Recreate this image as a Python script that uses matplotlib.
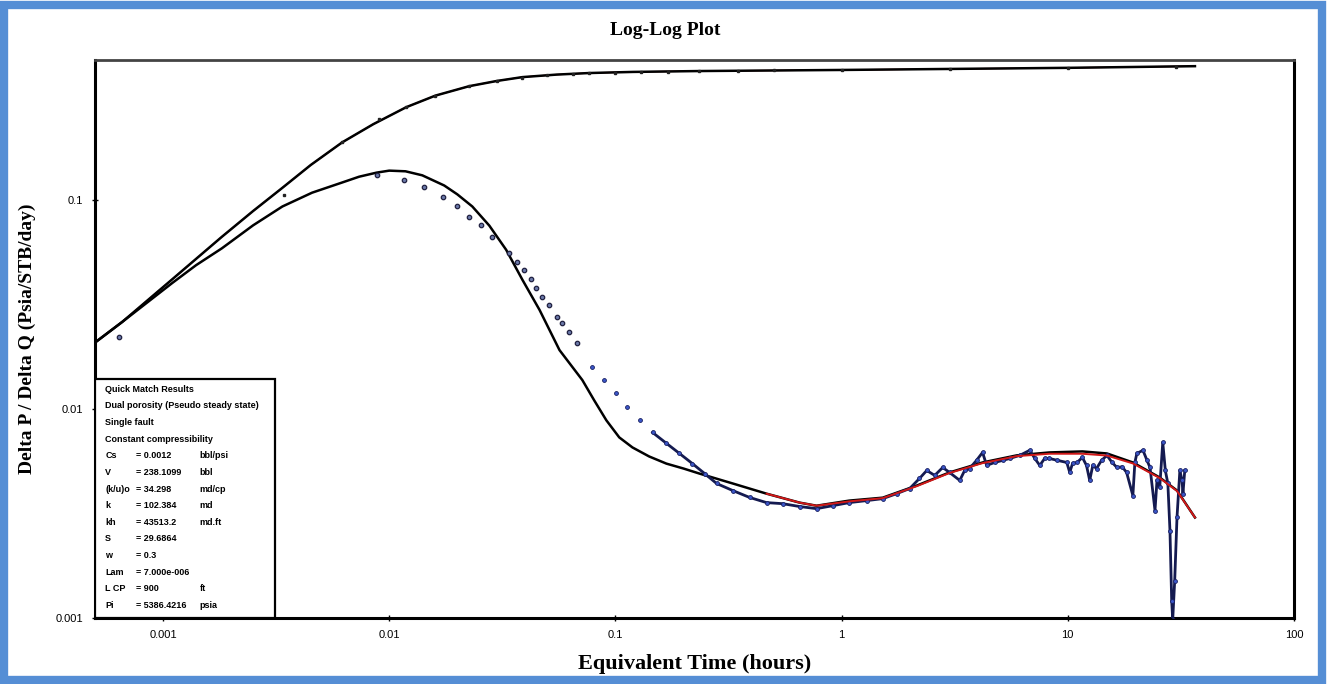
import numpy as np
import matplotlib
matplotlib.use("Agg")
import matplotlib.pyplot as plt
from matplotlib.patches import Rectangle

# ---- data ----
# pressure model (upper curve)
pm_t = [0.00051, 0.00066, 0.0011, 0.00182, 0.0025, 0.00337, 0.0045, 0.0062,
        0.0085, 0.0119, 0.016, 0.0226, 0.03, 0.0388, 0.055, 0.0768, 0.12,
        0.235, 1.0, 10.0, 36.5]
pm_dp = [0.0212, 0.0262, 0.0420, 0.067, 0.089, 0.115, 0.148, 0.19,
         0.232, 0.28, 0.318, 0.353, 0.374, 0.39, 0.401, 0.408, 0.413,
         0.417, 0.422, 0.432, 0.44]

# pressure data points
pd_t = [0.00064, 0.00343, 0.0062, 0.009, 0.0119, 0.016, 0.0226, 0.03, 0.0388,
        0.05, 0.065, 0.0768, 0.1, 0.13, 0.17, 0.235, 0.35, 0.5, 1.0, 3.0, 10.0, 30.0]
pd_dp = [0.0222, 0.106, 0.19, 0.245, 0.28, 0.318, 0.352, 0.372, 0.388,
         0.398, 0.404, 0.407, 0.41, 0.412, 0.414, 0.416, 0.418, 0.42, 0.422, 0.427, 0.432, 0.438]

# derivative model (lower curve)
dm_t = [0.00051, 0.00066, 0.0011, 0.0014, 0.00182, 0.0025, 0.00337, 0.00456,
        0.0062, 0.00736, 0.0088, 0.0100, 0.0118, 0.0140, 0.0175, 0.0200,
        0.0233, 0.0277, 0.0329, 0.0388, 0.0462, 0.0566, 0.0714, 0.0807,
        0.0912, 0.104, 0.119, 0.141, 0.168, 0.2, 0.235, 0.330,
        0.466, 0.652, 0.775, 1.08, 1.52, 2.15, 3.0, 4.2, 5.94, 8.3, 11.6,
        14.9, 19.4, 25.5, 30.4, 36.5]
dm_dp = [0.0212, 0.0262, 0.0403, 0.049, 0.059, 0.076, 0.0936, 0.109,
         0.122, 0.130, 0.136, 0.139, 0.138, 0.132, 0.118, 0.107,
         0.0936, 0.0758, 0.058, 0.0417, 0.0299, 0.0192, 0.0138, 0.0110,
         0.00885, 0.00733, 0.00656, 0.00594, 0.00549, 0.0052, 0.00492,
         0.00441, 0.00394, 0.00357, 0.00345, 0.00365, 0.00377, 0.00431,
         0.00498, 0.00556, 0.00601, 0.00621, 0.00628, 0.00614, 0.00556,
         0.00471, 0.00408, 0.00303]

# second (red) derivative model, late part
rm_t = [0.466, 0.652, 0.775, 1.08, 1.52, 2.15, 3.0, 4.2, 5.94, 8.3, 11.6,
        14.9, 19.4, 25.5, 30.4, 36.5]
rm_dp = [0.00394, 0.00357, 0.00345, 0.00362, 0.00375, 0.00428, 0.00495,
         0.00552, 0.00596, 0.00612, 0.00612, 0.00600, 0.00550, 0.00468,
         0.00406, 0.00303]

# derivative data, early well-spaced points
de_t = [0.00064, 0.00885, 0.0116, 0.0143, 0.0172, 0.0200, 0.0226, 0.0255,
        0.0286, 0.0340, 0.0368, 0.0395, 0.0425, 0.0447, 0.0475, 0.0510,
        0.0553, 0.0582, 0.0625, 0.0679]
de_dp = [0.0222, 0.132, 0.125, 0.1155, 0.1045, 0.0936, 0.0838, 0.0767,
         0.0671, 0.0562, 0.0509, 0.0466, 0.0422, 0.0382, 0.0345, 0.0316,
         0.0277, 0.0259, 0.0234, 0.0207]

# derivative data, dense noisy part
dd_t = [0.079, 0.0893, 0.101, 0.113, 0.128, 0.146, 0.168, 0.192, 0.219,
        0.248, 0.280, 0.330, 0.392, 0.466, 0.548, 0.652, 0.775, 0.912, 1.08,
        1.29, 1.52, 1.75, 2.0, 2.21, 2.38, 2.58, 2.8, 3.0, 3.33, 3.5, 3.68,
        3.95, 4.2, 4.38, 4.75, 5.16, 5.54, 6.13, 6.79, 7.15, 7.52, 7.9, 8.3,
        9.0, 9.9, 10.2, 10.5, 11.0, 11.6, 12.1, 12.5, 12.9, 13.4, 14.1, 14.9,
        15.7, 16.5, 17.4, 18.2, 19.4, 19.8, 20.2, 21.5, 22.4, 23.1, 24.3,
        24.8, 25.5, 26.3, 27.0, 27.7, 28.3, 28.8, 29.1, 29.7, 30.4, 31.3,
        32.0, 32.3, 32.9]
dd_dp = [0.0159, 0.0138, 0.0119, 0.0102, 0.00885, 0.00774, 0.00687, 0.00614,
         0.00549, 0.00492, 0.00441, 0.00408, 0.00378, 0.00357, 0.00353,
         0.00342, 0.00334, 0.00345, 0.00357, 0.00365, 0.00373, 0.00394,
         0.00417, 0.00466, 0.00509, 0.00482, 0.00526, 0.00498, 0.00456,
         0.00509, 0.0052, 0.00569, 0.00621, 0.00538, 0.00556, 0.00569,
         0.00581, 0.00601, 0.00636, 0.00581, 0.00538, 0.00581, 0.00581,
         0.00569, 0.00556, 0.00498, 0.0055, 0.00556, 0.00588, 0.00538,
         0.00456, 0.00538, 0.0052, 0.00569, 0.00601, 0.00556, 0.00526,
         0.0053, 0.00498, 0.00386, 0.00556, 0.00614, 0.00636, 0.00569,
         0.00526, 0.00327, 0.00456, 0.00422, 0.00694, 0.00509, 0.00441,
         0.00262, 0.00121, 0.00098, 0.00151, 0.00303, 0.00509, 0.00456,
         0.00394, 0.00509]

x_ticks = [0.001, 0.01, 0.1, 1, 10, 100]
x_labels = ["0.001", "0.01", "0.1", "1", "10", "100"]
y_ticks = [0.001, 0.01, 0.1]
y_labels = ["0.001", "0.01", "0.1"]

box_lines = [
    ("Quick Match Results", "", ""),
    ("Dual porosity (Pseudo steady state)", "", ""),
    ("Single fault", "", ""),
    ("Constant compressibility", "", ""),
    ("Cs", "= 0.0012", "bbl/psi"),
    ("V", "= 238.1099", "bbl"),
    ("(k/u)o", "= 34.298", "md/cp"),
    ("k", "= 102.384", "md"),
    ("kh", "= 43513.2", "md.ft"),
    ("S", "= 29.6864", ""),
    ("w", "= 0.3", ""),
    ("Lam", "= 7.000e-006", ""),
    ("L CP", "= 900", "ft"),
    ("Pi", "= 5386.4216", "psia"),
]

# ---- figure ----
fig = plt.figure(figsize=(13.3, 6.84), dpi=100)
ax = fig.add_axes([0.0714, 0.0965, 0.9015, 0.8155])

ax.plot(pm_t, pm_dp, color="#b02020", lw=1.0, zorder=2)
ax.plot(pm_t, pm_dp, color="black", lw=1.8, zorder=3)
ax.plot(pd_t, pd_dp, "s", color="#222222", ms=1.6, zorder=4)

ax.plot(dm_t, dm_dp, color="black", lw=1.8, zorder=3)
ax.plot(de_t, de_dp, "o", mfc="#6a78a8", mec="#202040", ms=3.2, mew=0.9, zorder=4)
dense = [i for i, t in enumerate(dd_t) if t >= 0.14]
ax.plot([dd_t[i] for i in dense], [dd_dp[i] for i in dense], "-",
        color="#141a50", lw=2.0, zorder=4)
ax.plot(dd_t, dd_dp, "o", mfc="#3a55c8", mec="#1a2060", ms=2.8, mew=0.6, zorder=5)
ax.plot(rm_t, rm_dp, color="#d01818", lw=1.4, zorder=6)

ax.set_xscale("log")
ax.set_yscale("log")
ax.set_xlim(0.0005, 100)
ax.set_ylim(0.001, 0.47)
ax.set_xticks(x_ticks)
ax.set_xticklabels(x_labels)
ax.set_yticks(y_ticks)
ax.set_yticklabels(y_labels)
ax.minorticks_off()
ax.tick_params(direction="inout", length=5, width=1, labelsize=8, pad=6)
for lab in ax.get_xticklabels() + ax.get_yticklabels():
    lab.set_fontfamily("Liberation Sans")

for s in ["left", "bottom", "right"]:
    ax.spines[s].set_linewidth(2.2)
    ax.spines[s].set_color("black")
ax.spines["top"].set_linewidth(2)
ax.spines["top"].set_color("#444444")

ax.set_xlabel("Equivalent Time (hours)", fontfamily="Liberation Serif",
              fontweight="bold", fontsize=16, labelpad=10)
ax.set_ylabel("Delta P / Delta Q (Psia/STB/day)", fontfamily="Liberation Serif",
              fontweight="bold", fontsize=14, labelpad=14)
fig.text(0.5, 0.955, "Log-Log Plot", ha="center", va="center",
         fontfamily="Liberation Serif", fontweight="bold", fontsize=14)

# results box in lower left
ax.add_patch(Rectangle((0.0, 0.0), 0.15, 0.429, transform=ax.transAxes,
                       facecolor="white", edgecolor="black", lw=1.6, zorder=7))
top = 0.410
step = 0.0298
for i, (a, b, c) in enumerate(box_lines):
    yy = top - i * step
    kw = dict(transform=ax.transAxes, fontsize=6.5, fontweight="bold",
              fontfamily="Liberation Sans", va="center", zorder=8)
    ax.text(0.0085, yy, a, **kw)
    if b:
        ax.text(0.034, yy, b, **kw)
    if c:
        ax.text(0.0875, yy, c, **kw)

# blue frame round the picture
fig.patches.append(Rectangle((0.003, 0.006), 0.991, 0.987, transform=fig.transFigure,
                             fill=False, edgecolor="#558ed5", lw=6, zorder=10))

fig.savefig("out.png", dpi=100)
